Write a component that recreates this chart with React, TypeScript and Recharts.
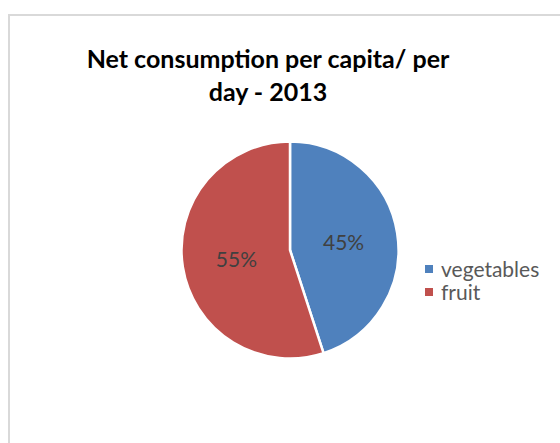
import { Legend, Pie, PieChart, Cell } from 'recharts'

const categories = ['vegetables', 'fruit']
const shares = [45, 55]
const colors = ['#4F81BD', '#C0504D']
const titleLines = ['Net consumption per capita/ per', 'day - 2013']

const data = categories.map((name, i) => ({ name, value: shares[i] }))

const RAD = Math.PI / 180

function renderLabel(props: any) {
  const { cx, cy, midAngle, outerRadius, percent } = props
  const r = outerRadius * 0.5
  const x = cx + r * Math.cos(-midAngle * RAD)
  const y = cy + r * Math.sin(-midAngle * RAD)
  return (
    <text
      x={x}
      y={y}
      fill="#404040"
      textAnchor="middle"
      dominantBaseline="central"
      fontSize={21}
      fontFamily="Lato, sans-serif"
    >
      {`${Math.round(percent * 100)}%`}
    </text>
  )
}

function LegendContent() {
  return (
    <div style={{ fontFamily: 'Lato, sans-serif', fontSize: 21, color: '#595959' }}>
      {categories.map((name, i) => (
        <div key={name} style={{ display: 'flex', alignItems: 'center', height: 23, lineHeight: '23px' }}>
          <span
            style={{ width: 8, height: 8, background: colors[i], marginRight: 8, display: 'inline-block' }}
          />
          <span>{name}</span>
        </div>
      ))}
    </div>
  )
}

export default function App() {
  return (
    <div style={{ position: 'absolute', left: 0, top: 0, width: 560, height: 443, overflow: 'hidden', background: '#fff' }}>
      <div
        style={{
          position: 'absolute',
          left: 8,
          top: 14,
          width: 560,
          height: 440,
          border: '2px solid #d9d9d9',
          boxSizing: 'border-box',
        }}
      />
      <div
        style={{
          position: 'absolute',
          left: 68,
          width: 400,
          top: 42,
          textAlign: 'center',
          fontFamily: 'Lato, sans-serif',
          fontWeight: 'bold',
          fontSize: 25,
          lineHeight: '33px',
          color: '#000',
        }}
      >
        {titleLines.map((l) => (
          <div key={l}>{l}</div>
        ))}
      </div>
      <div style={{ position: 'absolute', left: 0, top: 0 }}>
        <PieChart width={560} height={443} margin={{ top: 0, right: 0, bottom: 0, left: 0 }}>
          <Pie
            data={data}
            dataKey="value"
            nameKey="name"
            cx={290}
            cy={250}
            outerRadius={108.5}
            startAngle={90}
            endAngle={-270}
            stroke="#fff"
            strokeWidth={2.5}
            label={renderLabel}
            labelLine={false}
            isAnimationActive={false}
          >
            {data.map((d, i) => (
              <Cell key={d.name} fill={colors[i]} />
            ))}
          </Pie>
          <Legend
            content={<LegendContent />}
            wrapperStyle={{ left: 425, top: 257, width: 130 }}
          />
        </PieChart>
      </div>
    </div>
  )
}
